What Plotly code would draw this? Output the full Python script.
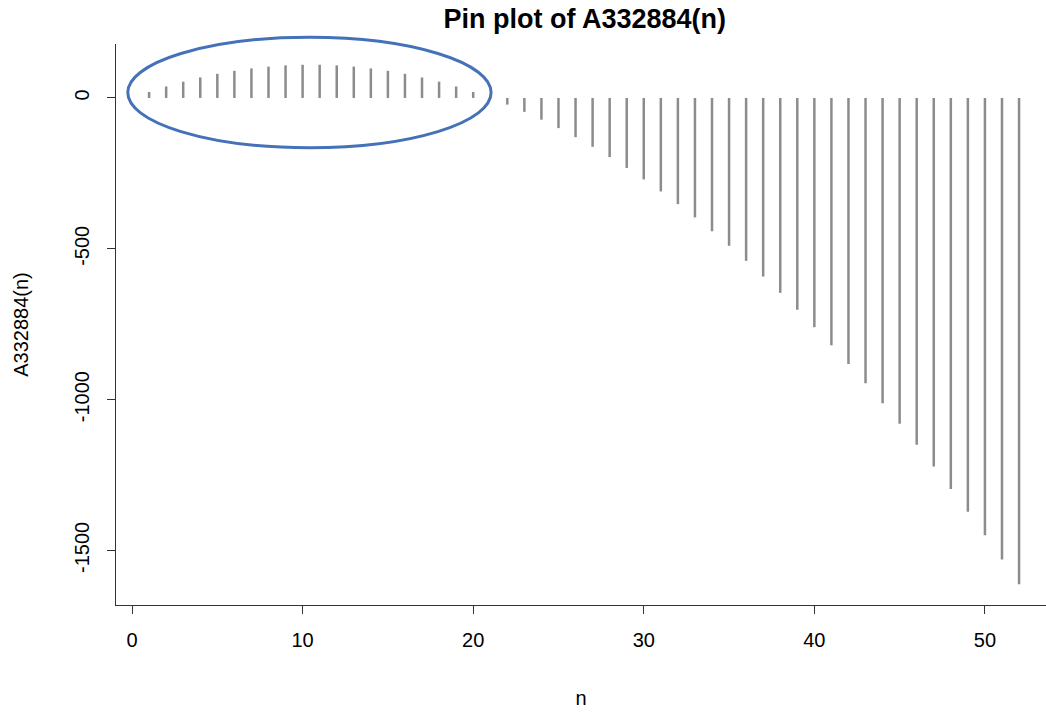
import plotly.graph_objects as go

# Data
n_values = list(range(1, 53))
a_values = [20, 38, 54, 68, 80, 90, 98, 104, 108, 110,
            110, 108, 104, 98, 90, 80, 68, 54, 38, 20,
            0, -22, -46, -72, -100, -130, -162, -196, -232, -270,
            -310, -352, -396, -442, -490, -540, -592, -646, -702, -760,
            -820, -882, -946, -1012, -1080, -1150, -1222, -1296, -1372, -1450,
            -1530, -1612]
x_ticks = [0, 10, 20, 30, 40, 50]
y_ticks = [0, -500, -1000, -1500]
y_tick_labels = ["0", "-500", "-1000", "-1500"]

# Highlight ellipse (data coordinates, hand-drawn annotation)
ell_x0, ell_x1 = -0.25, 21.05
ell_y0, ell_y1 = -165, 201

# Build pin segments
xs, ys = [], []
for n, v in zip(n_values, a_values):
    xs += [n, n, None]
    ys += [0, v, None]

ymin, ymax = min(a_values), max(a_values)
yr = ymax - ymin
y_range = [ymin - 0.04 * yr, ymax + 0.04 * yr]
x_range = [-0.94, 53.58]

W, H = 1046, 715
ml, mr, mt, mb = 116, 0, 44, 110

def xp(x):
    return (x - x_range[0]) / (x_range[1] - x_range[0])

def yp(y):
    return (y - y_range[0]) / (y_range[1] - y_range[0])

fig = go.Figure()
fig.add_trace(go.Scatter(
    x=xs, y=ys, mode="lines",
    line=dict(color="#8c8c8c", width=2.5),
    hoverinfo="skip", showlegend=False,
))

fig.add_shape(type="circle", xref="paper", yref="paper",
              x0=xp(ell_x0), x1=xp(ell_x1), y0=yp(ell_y0), y1=yp(ell_y1),
              line=dict(color="#4471b8", width=3), layer="above")

font = "Liberation Sans, Arial, Helvetica, sans-serif"
fig.update_layout(
    width=W, height=H,
    margin=dict(l=ml, r=mr, t=mt, b=mb, pad=0),
    paper_bgcolor="white", plot_bgcolor="white",
    font=dict(family=font, size=20, color="black"),
    title=dict(text="<b>Pin plot of A332884(n)</b>", x=0.559, xanchor="center",
               y=0.974, yanchor="middle", font=dict(size=27, family=font)),
    xaxis=dict(range=x_range, tickvals=x_ticks, showline=True, linecolor="#333",
               linewidth=1.2, ticks="outside", ticklen=8, tickcolor="#333",
               showgrid=False, zeroline=False, ticklabelstandoff=9,
               automargin=False, tickfont=dict(size=20),
               title=dict(text="n", standoff=40, font=dict(size=20))),
    yaxis=dict(range=y_range, tickvals=y_ticks, ticktext=y_tick_labels,
               showline=True, linecolor="#333",
               linewidth=1.2, ticks="outside", ticklen=8, tickcolor="#333",
               tickangle=-90, showgrid=False, zeroline=False, ticklabelstandoff=10,
               automargin=False, tickfont=dict(size=20),
               title=dict(text="A332884(n)", standoff=36, font=dict(size=20))),
)

fig.write_html("out.html", config={"displayModeBar": False},
               post_script="document.body.style.margin='0';document.body.style.overflow='hidden';")
